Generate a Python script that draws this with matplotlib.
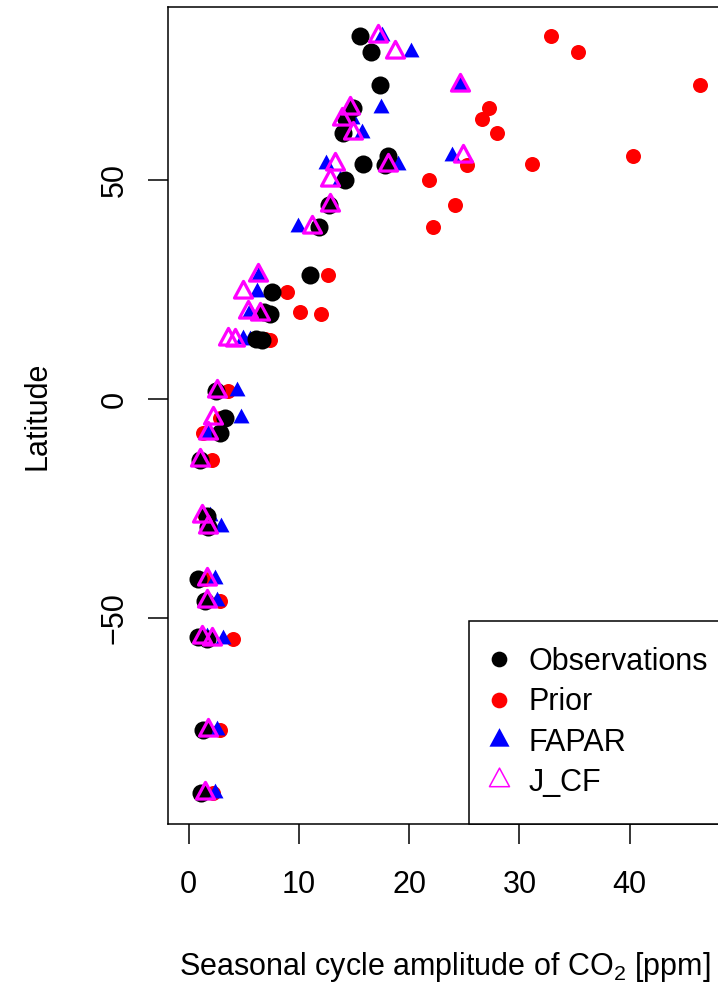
import matplotlib
matplotlib.use("Agg")
import matplotlib.pyplot as plt
from matplotlib.lines import Line2D
from matplotlib.path import Path
import numpy as np

# Station latitudes and seasonal cycle amplitudes of CO2 (ppm)
latitude = [82.8, 79.2, 71.6, 66.5, 64.0, 60.8, 55.6, 53.4, 53.6, 50.0,
            44.4, 39.2, 28.4, 24.5, 19.8, 19.5, 13.6, 13.4, 1.9, -4.4,
            -7.8, -14.0, -26.7, -29.3, -41.0, -46.0, -54.4, -54.8, -75.6, -90.0]
observations = [15.5, 16.5, 17.4, 14.9, 14.3, 14.0, 18.1, 17.8, 15.85, 14.2,
                12.7, 11.8, 11.0, 7.6, 6.8, 7.4, 6.1, 6.7, 2.5, 3.3,
                2.85, 1.0, 1.65, 1.8, 0.9, 1.5, 0.9, 1.65, 1.3, 1.1]
prior = [32.9, 35.3, 46.4, 27.2, 26.6, 28.0, 40.3, 25.2, 31.1, 21.8,
         24.2, 22.2, 12.6, 8.9, 10.1, 12.0, 6.9, 7.4, 3.6, 2.85,
         1.35, 2.1, 1.5, 1.9, 1.5, 2.85, 1.4, 4.05, 2.85, 2.2]
fapar = [17.5, 20.2, 24.6, 17.45, 14.8, 15.7, 23.9, 19.0, 12.5, 13.7,
         12.9, 9.95, 6.4, 6.2, 5.6, 6.7, 4.9, 5.6, 4.4, 4.8,
         1.9, 1.2, 1.95, 2.9, 2.4, 2.55, 1.7, 3.15, 2.55, 2.4]
j_cf = [17.2, 18.7, 24.6, 14.65, 13.9, 14.9, 24.9, 18.1, 13.3, 12.8,
        12.8, 11.2, 6.33, 4.97, 5.4, 6.5, 3.6, 4.2, 2.55, 2.25,
        1.8, 1.05, 1.2, 1.8, 1.65, 1.65, 1.2, 2.1, 1.8, 1.5]

series_labels = ["Observations", "Prior", "FAPAR", "J_CF"]
x_ticks = [0, 10, 20, 30, 40]
y_ticks = [-50, 0, 50]

plt.rcParams["font.family"] = ["Liberation Sans", "DejaVu Sans"]
plt.rcParams["mathtext.fontset"] = "custom"
plt.rcParams["mathtext.rm"] = "Liberation Sans"
plt.rcParams["mathtext.it"] = "Liberation Sans:italic"

# triangle marker centred on its centroid
tri_verts = np.array([[0.0, 1.233], [0.811 * 1.233, -0.617], [-0.811 * 1.233, -0.617], [0.0, 1.233]])
tri = Path(tri_verts, [Path.MOVETO, Path.LINETO, Path.LINETO, Path.CLOSEPOLY])

W, H = 718, 989
fig = plt.figure(figsize=(W / 100, H / 100), dpi=100)
ax = fig.add_axes([168 / W, (H - 824) / H, 554 / W, 817 / H])

ax.plot(prior, latitude, ls="none", marker="o", ms=10.8, mew=0, color="#ff0000", zorder=2)
ax.plot(fapar, latitude, ls="none", marker=tri, ms=14.2, mew=0, color="#0000ff", zorder=3)
ax.plot(observations, latitude, ls="none", marker="o", ms=13.0, mew=0, color="black", zorder=4)
ax.plot(j_cf, latitude, ls="none", marker=tri, ms=16.0, mew=2.3, mfc="none",
        mec="#ff00ff", zorder=5)

ax.set_xlim(-1.86, 48.36)
ax.set_ylim(-97.0, 89.5)
ax.set_xticks(x_ticks)
ax.set_yticks(y_ticks)
ax.set_xticklabels([str(v) for v in x_ticks])
ax.set_yticklabels(["\u221250" if v < 0 else str(v) for v in y_ticks], rotation=90, va="center")

for s in ax.spines.values():
    s.set_linewidth(1.1)
ax.tick_params(axis="both", length=14.4, width=1.1, labelsize=22)
ax.tick_params(axis="x", pad=19)
ax.tick_params(axis="y", pad=13)

ax.set_xlabel(r"Seasonal cycle amplitude of CO$_\mathrm{2}$ [ppm]", fontsize=22, labelpad=36)
ax.set_ylabel("Latitude", fontsize=22, labelpad=34)

handles = [
    Line2D([], [], ls="none", marker="o", ms=11.3, mew=0, color="black"),
    Line2D([], [], ls="none", marker="o", ms=11.3, mew=0, color="#ff0000"),
    Line2D([], [], ls="none", marker=tri, ms=17.8, mew=0, color="#0000ff"),
    Line2D([], [], ls="none", marker=tri, ms=17.8, mew=1.1, mfc="none", mec="#ff00ff"),
]
leg = ax.legend(handles, series_labels, loc="lower left",
                bbox_to_anchor=((469 - 168) / 554, 0.0), borderaxespad=0,
                fontsize=22, frameon=True, fancybox=False, edgecolor="black",
                framealpha=1, borderpad=0.85, handlelength=0.25, handletextpad=0.85,
                labelspacing=0.34)
leg.get_frame().set_linewidth(1.1)
leg.set_zorder(10)

fig.savefig("out.png", dpi=100)
